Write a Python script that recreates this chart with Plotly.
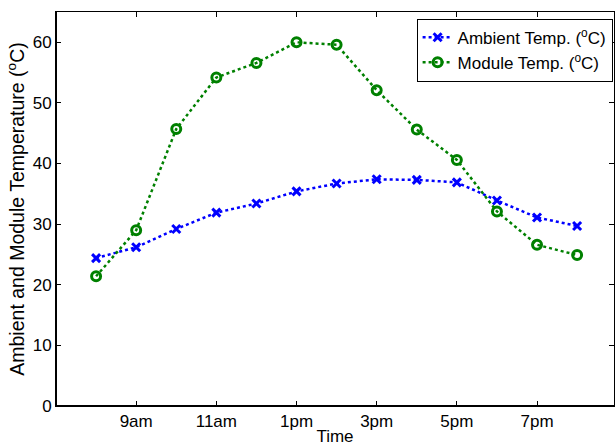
import plotly.graph_objects as go

hours = [8, 9, 10, 11, 12, 13, 14, 15, 16, 17, 18, 19, 20]
ambient = [24.4, 26.2, 29.2, 31.9, 33.4, 35.4, 36.7, 37.4, 37.3, 36.9, 33.9, 31.1, 29.7]
module = [21.4, 29.0, 45.7, 54.2, 56.6, 60.0, 59.6, 52.1, 45.6, 40.6, 32.1, 26.6, 24.9]
tick_vals = [9, 11, 13, 15, 17, 19]
tick_text = ["9am", "11am", "1pm", "3pm", "5pm", "7pm"]
y_ticks = [0, 10, 20, 30, 40, 50, 60]

FONT = "Liberation Sans, Arial, sans-serif"

fig = go.Figure()
fig.add_trace(go.Scatter(
    x=hours, y=ambient, mode="lines+markers",
    name="Ambient Temp. (<sup>o</sup>C)",
    line=dict(color="#0000ff", width=2.5, dash="dot"),
    marker=dict(symbol="x-thin", size=8, color="#0000ff",
                line=dict(color="#0000ff", width=3)),
))
fig.add_trace(go.Scatter(
    x=hours, y=module, mode="lines+markers",
    name="Module Temp. (<sup>o</sup>C)",
    line=dict(color="#008000", width=2.5, dash="dot"),
    marker=dict(symbol="circle-open", size=9, color="#008000",
                line=dict(color="#008000", width=3)),
))

axis_common = dict(
    showline=True, linecolor="black", linewidth=1, mirror="ticks",
    ticks="inside", ticklen=5, tickcolor="black", tickwidth=1,
    showgrid=False, zeroline=False,
    tickfont=dict(family=FONT, size=17, color="black"),
)

fig.update_xaxes(
    range=[7, 20.92], tickvals=tick_vals, ticktext=tick_text,
    title=dict(text="Time", font=dict(family=FONT, size=17, color="black"), standoff=0),
    **axis_common,
)
fig.update_yaxes(
    range=[0, 65], tickvals=y_ticks,
    title=dict(text="Ambient and Module Temperature (<sup>o</sup>C)",
               font=dict(family=FONT, size=19.5, color="black"), standoff=2),
    **axis_common,
)

# thicker left and bottom axis lines
fig.add_shape(type="line", xref="paper", yref="paper", x0=0, x1=0, y0=0, y1=1,
              line=dict(color="black", width=2))
fig.add_shape(type="line", xref="paper", yref="paper", x0=0, x1=1, y0=0, y1=0,
              line=dict(color="black", width=2))

fig.update_layout(
    width=616, height=446,
    margin=dict(l=56, r=2, t=12, b=40),
    paper_bgcolor="white", plot_bgcolor="white",
    font=dict(family=FONT, size=17, color="black"),
    legend=dict(
        x=0.9975, y=0.983, xanchor="right", yanchor="top",
        bgcolor="white", bordercolor="black", borderwidth=1,
        font=dict(family=FONT, size=17, color="black"),
        itemwidth=30, tracegroupgap=0,
    ),
    showlegend=True,
)

fig.write_html("out.html")
